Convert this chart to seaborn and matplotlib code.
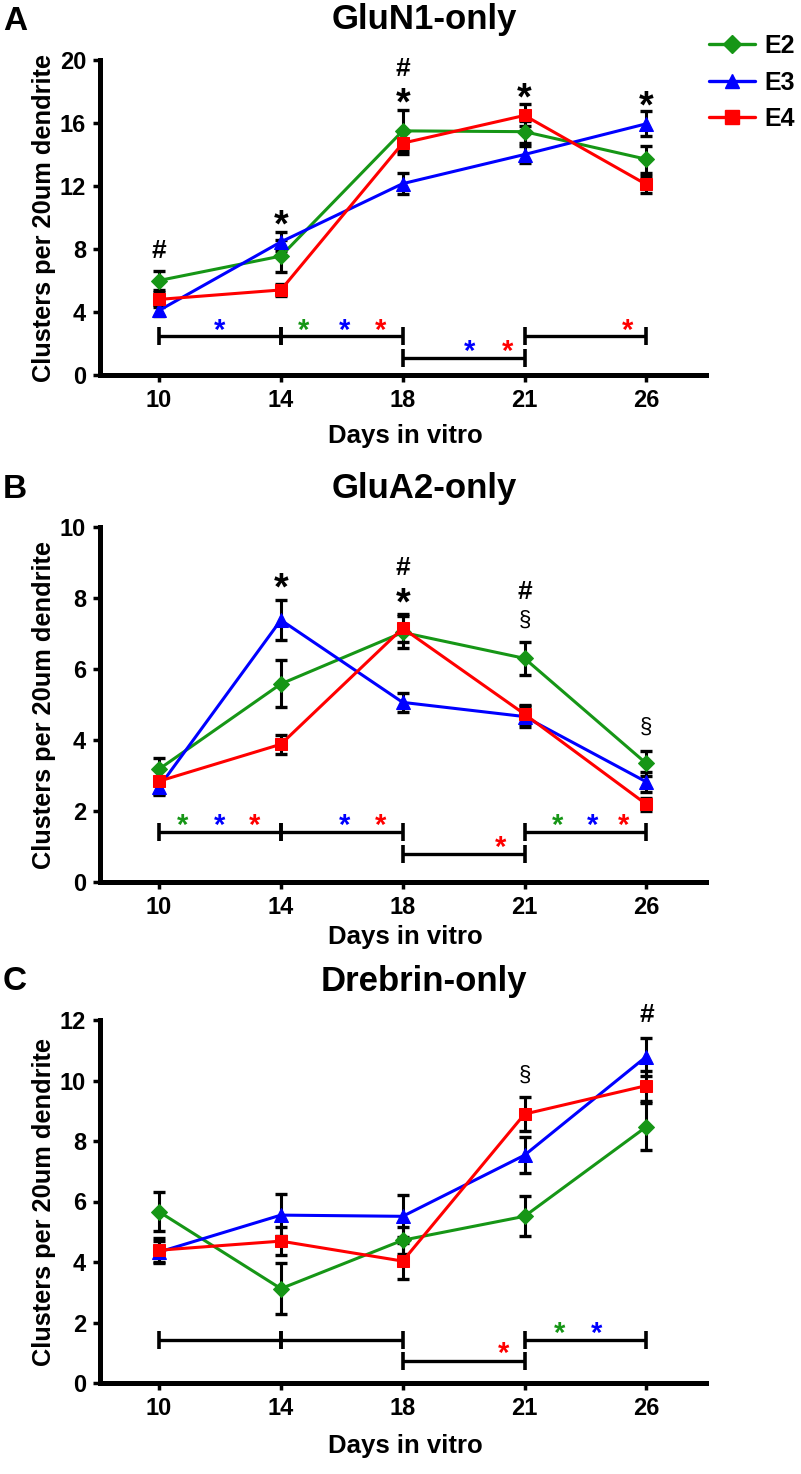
import numpy as np
import pandas as pd
import seaborn as sns
import matplotlib.pyplot as plt
from matplotlib.lines import Line2D

# ---- data (mean clusters per 20um dendrite, SEM) ----
days = ['10', '14', '18', '21', '26']
groups = ['E2', 'E3', 'E4']

glun1_e2 = [6.0, 7.55, 15.5, 15.45, 13.7]
glun1_e3 = [4.1, 8.45, 12.15, 14.0, 15.95]
glun1_e4 = [4.8, 5.4, 14.72, 16.48, 12.1]
glun1_e2_sem = [0.6, 1.0, 1.3, 0.7, 0.85]
glun1_e3_sem = [0.35, 0.6, 0.65, 0.55, 0.8]
glun1_e4_sem = [0.5, 0.4, 0.7, 0.7, 0.55]

glua2_e2 = [3.18, 5.58, 7.03, 6.3, 3.34]
glua2_e3 = [2.68, 7.38, 5.06, 4.66, 2.82]
glua2_e4 = [2.84, 3.88, 7.15, 4.73, 2.19]
glua2_e2_sem = [0.3, 0.66, 0.45, 0.46, 0.36]
glua2_e3_sem = [0.22, 0.57, 0.27, 0.3, 0.28]
glua2_e4_sem = [0.35, 0.27, 0.4, 0.27, 0.18]

drebrin_e2 = [5.66, 3.12, 4.72, 5.51, 8.47]
drebrin_e3 = [4.33, 5.55, 5.51, 7.53, 10.79]
drebrin_e4 = [4.39, 4.69, 4.03, 8.89, 9.83]
drebrin_e2_sem = [0.65, 0.85, 0.45, 0.66, 0.77]
drebrin_e3_sem = [0.35, 0.7, 0.7, 0.6, 0.63]
drebrin_e4_sem = [0.4, 0.47, 0.6, 0.57, 0.5]

# significance marks: (day index, y, text)
glun1_marks = [(0, 7.9, '#'), (1, 10.05, '*'), (2, 17.8, '*'), (2, 19.4, '#'),
               (3, 18.1, '*'), (4, 17.6, '*')]
glua2_marks = [(1, 8.5, '*'), (2, 8.09, '*'), (2, 8.84, '#'), (3, 8.16, '#'),
               (3, 7.38, '\u00a7'), (4, 4.36, '\u00a7')]
drebrin_marks = [(3, 10.18, '\u00a7'), (4, 12.17, '#')]

# brackets between time points: (start index, end index, y)
glun1_brackets = [(0, 1, 2.5), (1, 2, 2.5), (2, 3, 1.1), (3, 4, 2.5)]
glua2_brackets = [(0, 1, 1.41), (1, 2, 1.41), (2, 3, 0.8), (3, 4, 1.41)]
drebrin_brackets = [(0, 1, 1.41), (1, 2, 1.41), (2, 3, 0.73), (3, 4, 1.41)]

# coloured stars on brackets: (x position, y, group)
glun1_stars = [(0.5, 3.17, 'E3'), (1.19, 3.17, 'E2'), (1.52, 3.17, 'E3'), (1.82, 3.17, 'E4'),
               (2.55, 1.8, 'E3'), (2.86, 1.8, 'E4'), (3.85, 3.17, 'E4')]
glua2_stars = [(0.19, 1.74, 'E2'), (0.5, 1.74, 'E3'), (0.78, 1.74, 'E4'), (1.52, 1.74, 'E3'),
               (1.82, 1.74, 'E4'), (2.8, 1.11, 'E4'), (3.27, 1.74, 'E2'), (3.56, 1.74, 'E3'),
               (3.81, 1.74, 'E4')]
drebrin_stars = [(2.83, 1.14, 'E4'), (3.29, 1.8, 'E2'), (3.59, 1.8, 'E3')]

colors = {'E2': '#169616', 'E3': '#0000ff', 'E4': '#ff0000'}
markers = {'E2': 'D', 'E3': '^', 'E4': 's'}

sns.set_style('ticks')
plt.rcParams['font.family'] = ['Liberation Sans', 'DejaVu Sans']
plt.rcParams['font.weight'] = 'bold'
for key in ['text.color', 'axes.labelcolor', 'xtick.color', 'ytick.color']:
    plt.rcParams[key] = 'black'

W, H = 801, 1474
fig = plt.figure(figsize=(W / 100, H / 100), dpi=100)


def px(x, y):
    return x / W, 1 - y / H


def make_df(e2, e3, e4, s2, s3, s4):
    rows = []
    for g, vals, sems in zip(groups, [e2, e3, e4], [s2, s3, s4]):
        for i, (v, s) in enumerate(zip(vals, sems)):
            rows.append({'pos': i, 'day': days[i], 'group': g, 'value': v, 'sem': s})
    return pd.DataFrame(rows)


panels = [
    dict(letter='A', title='GluN1-only', top=60, bottom=375, ymax=20, yticks=np.arange(0, 21, 4),
         df=make_df(glun1_e2, glun1_e3, glun1_e4, glun1_e2_sem, glun1_e3_sem, glun1_e4_sem),
         marks=glun1_marks, brackets=glun1_brackets, stars=glun1_stars,
         title_y=20, xlabel_y=436),
    dict(letter='B', title='GluA2-only', top=527, bottom=882, ymax=10, yticks=np.arange(0, 11, 2),
         df=make_df(glua2_e2, glua2_e3, glua2_e4, glua2_e2_sem, glua2_e3_sem, glua2_e4_sem),
         marks=glua2_marks, brackets=glua2_brackets, stars=glua2_stars,
         title_y=488, xlabel_y=937),
    dict(letter='C', title='Drebrin-only', top=1020, bottom=1383, ymax=12, yticks=np.arange(0, 13, 2),
         df=make_df(drebrin_e2, drebrin_e3, drebrin_e4, drebrin_e2_sem, drebrin_e3_sem, drebrin_e4_sem),
         marks=drebrin_marks, brackets=drebrin_brackets, stars=drebrin_stars,
         title_y=981, xlabel_y=1446),
]

left, right = 100, 706

for p in panels:
    ax = fig.add_axes([left / W, 1 - p['bottom'] / H, (right - left) / W, (p['bottom'] - p['top']) / H])
    df = p['df']

    # error bars first so lines and markers sit on top
    for g in groups:
        sub = df[df['group'] == g]
        ax.errorbar(sub['pos'], sub['value'], yerr=sub['sem'], fmt='none', ecolor='black',
                    color='black', elinewidth=2.2, capsize=4, capthick=2.4, zorder=2, clip_on=False)

    n_before = len(ax.lines)
    sns.lineplot(data=df, x='pos', y='value', hue='group', style='group',
                 palette=colors, markers=markers, dashes=False, linewidth=2.2,
                 markersize=10, legend=False, ax=ax, zorder=3)
    for ln in ax.lines[n_before:]:
        ln.set_clip_on(False)
        ln.set_markeredgecolor(ln.get_color())
        if ln.get_marker() == 'D':
            ln.set_markersize(8.5)
        elif ln.get_marker() == 's':
            ln.set_markersize(9.2)

    for x0, x1, y in p['brackets']:
        ax.plot([x0, x1], [y, y], color='black', lw=2.4, marker='|', ms=12.5, mew=2.6,
                solid_capstyle='butt', zorder=2)

    for x, y, g in p['stars']:
        ax.annotate('*', (x, y), xytext=(0, -4), textcoords='offset points',
                    color=colors[g], fontsize=21, fontweight='bold',
                    ha='center', va='center', zorder=4)

    for x, y, t in p['marks']:
        if t == '*':
            size, weight, dy = 27, 'bold', -7
        elif t == '#':
            size, weight, dy = 19, 'bold', 0
        else:
            size, weight, dy = 16, 'normal', 0
        ax.annotate(t, (x, y), xytext=(0, dy), textcoords='offset points',
                    color='black', fontsize=size, fontweight=weight,
                    ha='center', va='center', zorder=4, annotation_clip=False)

    ax.set_xlim(-0.485, 4.49)
    ax.set_ylim(0, p['ymax'])
    ax.set_xticks(range(len(days)))
    ax.set_xticklabels(days)
    ax.set_yticks(p['yticks'])
    ax.set_xlabel('')
    ax.set_ylabel('')
    sns.despine(ax=ax)
    for side in ['left', 'bottom']:
        ax.spines[side].set_linewidth(3.6)
        ax.spines[side].set_color('black')
    ax.tick_params(axis='both', length=5, width=2.5, color='black', labelsize=17, pad=5)
    for lab in ax.get_xticklabels() + ax.get_yticklabels():
        lab.set_fontweight('bold')

    fig.text(*px(15, p['title_y'] + 1), p['letter'], fontsize=24, fontweight='bold', ha='center', va='center')
    fig.text(*px(424, p['title_y']), p['title'], fontsize=25, fontweight='bold', ha='center', va='center')
    fig.text(*px(405, p['xlabel_y']), 'Days in vitro', fontsize=18.5, fontweight='bold', ha='center', va='center')
    fig.text(*px(44, (p['top'] + p['bottom']) / 2), 'Clusters per 20um dendrite', fontsize=18.3,
             fontweight='bold', rotation=90, ha='center', va='center')

# legend for the first panel, upper right
handles = [Line2D([], [], color=colors[g], marker=markers[g], lw=2.4,
                  ms={'E2': 9, 'E3': 10.5, 'E4': 9.5}[g], markeredgecolor=colors[g]) for g in groups]
fig.legend(handles, groups, loc='upper left', bbox_to_anchor=px(709, 34), frameon=False,
           handlelength=1.85, handletextpad=0.35, labelspacing=0.5, borderpad=0, borderaxespad=0,
           prop={'weight': 'bold', 'size': 18})

fig.savefig('out.png', dpi=100)
